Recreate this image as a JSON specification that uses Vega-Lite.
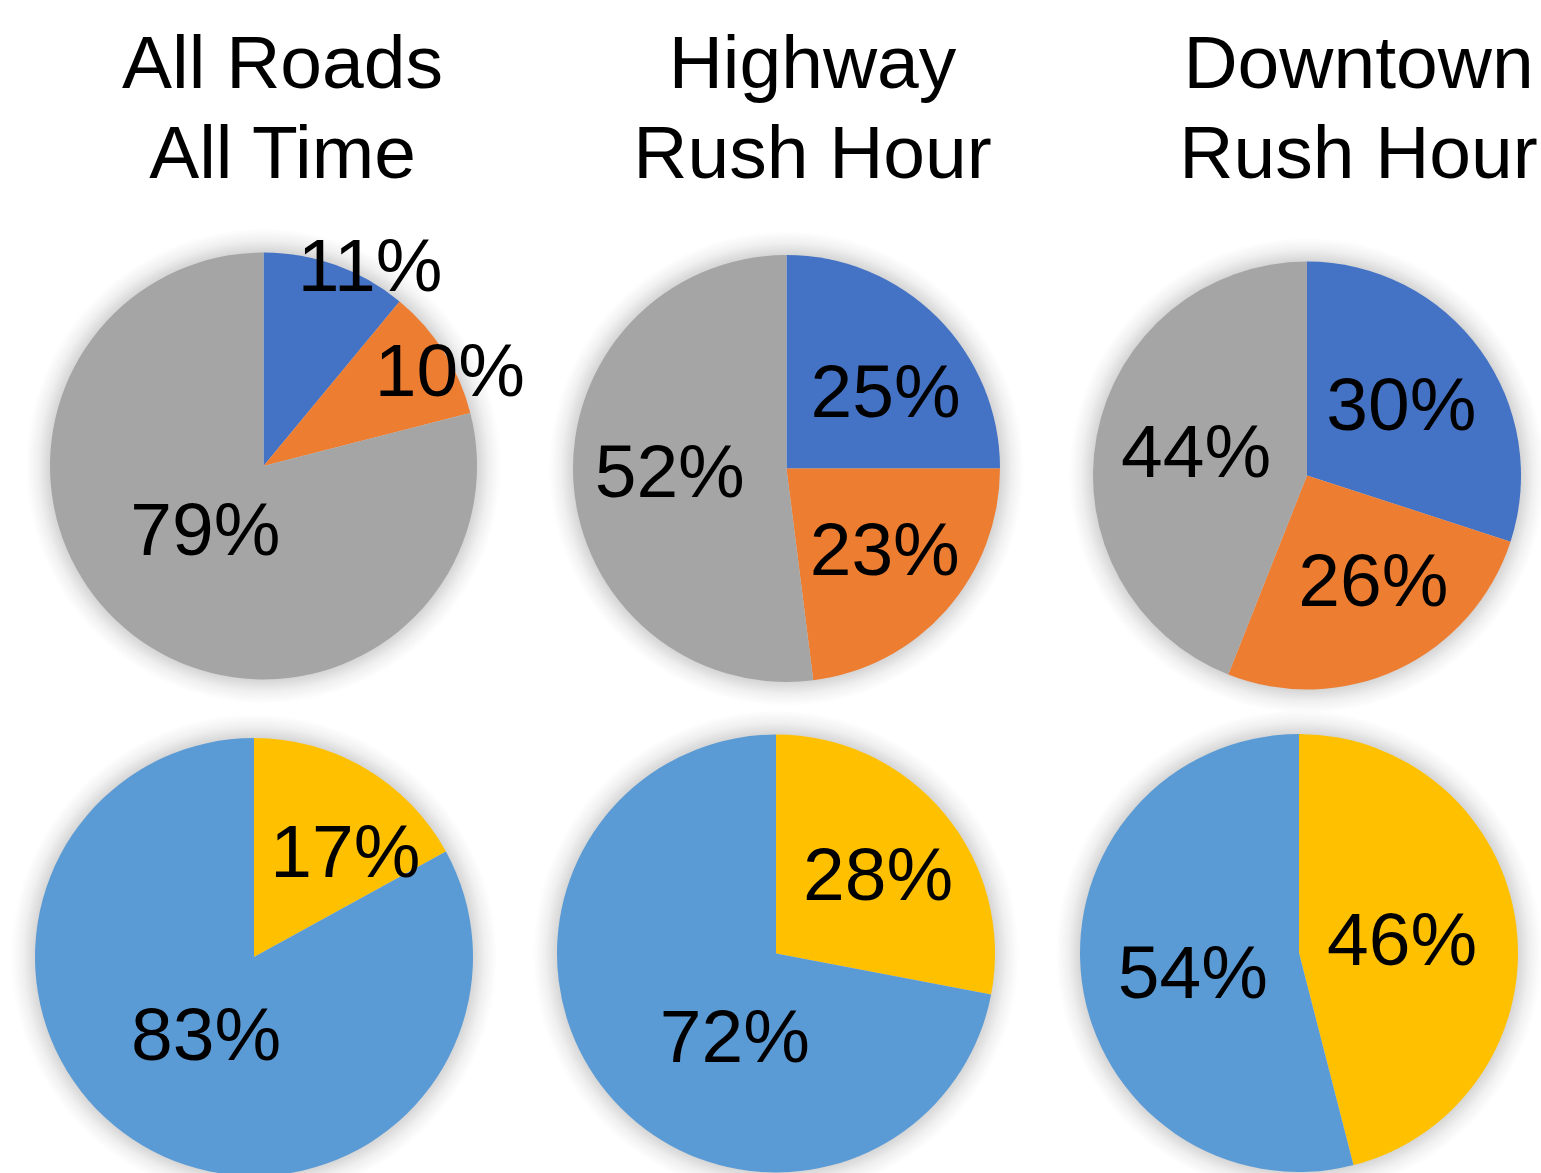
{
  "$schema": "https://vega.github.io/schema/vega-lite/v6.json",
  "padding": {"top": 28, "left": 0, "right": 0, "bottom": 0},
  "background": "white",
  "config": {
    "view": {"stroke": null},
    "title": {"fontSize": 75, "font": "Liberation Sans", "fontWeight": "normal", "color": "#000000", "lineHeight": 90, "anchor": "middle", "frame": "group", "offset": 7, "baseline": "bottom"},
    "text": {"fontSize": 75, "font": "Liberation Sans", "baseline": "middle", "align": "center", "color": "#000000"}
  },
  "columns": 3,
  "spacing": 0,
  "bounds": "flush",
  "align": "none",
  "concat": [
    {
      "width": 527, "height": 530,
      "title": {"text": ["All Roads", "All Time"], "dx": 19},
      "data": {"values": [
        {"cat": "Series 1", "share": 0.11},
        {"cat": "Series 2", "share": 0.10},
        {"cat": "Series 3", "share": 0.79}
      ]},
      "resolve": {"scale": {"theta": "independent"}},
      "layer": [
        {"transform": [{"aggregate": [{"op": "sum", "field": "share", "as": "total"}]}],
         "mark": {"type": "arc", "outerRadius": 237.5, "color": {"gradient": "radial", "x1": 0.5, "y1": 0.5, "x2": 0.5, "y2": 0.5, "r1": 0, "r2": 0.5, "stops": [{"offset": 0, "color": "rgba(0,0,0,0.16)"}, {"offset": 0.9, "color": "rgba(0,0,0,0.16)"}, {"offset": 0.95, "color": "rgba(0,0,0,0.06)"}, {"offset": 1, "color": "rgba(0,0,0,0)"}]}},
         "encoding": {"theta": {"field": "total", "type": "quantitative"}}},
        {"mark": {"type": "arc", "outerRadius": 213.5},
         "encoding": {"theta": {"field": "share", "type": "quantitative", "stack": true}, "order": {"field": "cat", "type": "ordinal", "sort": "ascending"},
           "color": {"field": "cat", "type": "nominal", "legend": null, "scale": {"domain": ["Series 1", "Series 2", "Series 3", "Group 1", "Group 2"], "range": ["#4472C4", "#ED7D31", "#A5A5A5", "#FFC000", "#5B9BD5"]}}}},
        {"mark": {"type": "text", "radius": 229, "dx": 29, "dy": 17},
         "encoding": {"theta": {"field": "share", "type": "quantitative", "stack": true}, "order": {"field": "cat", "type": "ordinal", "sort": "ascending"},
           "text": {"condition": {"test": "datum.cat === 'Series 1'", "field": "share", "type": "quantitative", "format": ".0%"}, "value": ""}}},
        {"mark": {"type": "text", "radius": 210, "dx": 9, "dy": 20},
         "encoding": {"theta": {"field": "share", "type": "quantitative", "stack": true}, "order": {"field": "cat", "type": "ordinal", "sort": "ascending"},
           "text": {"condition": {"test": "datum.cat === 'Series 2'", "field": "share", "type": "quantitative", "format": ".0%"}, "value": ""}}},
        {"mark": {"type": "text", "radius": 85, "dx": -6, "dy": -1},
         "encoding": {"theta": {"field": "share", "type": "quantitative", "stack": true}, "order": {"field": "cat", "type": "ordinal", "sort": "ascending"},
           "text": {"condition": {"test": "datum.cat === 'Series 3'", "field": "share", "type": "quantitative", "format": ".0%"}, "value": ""}}}
      ]
    },
    {
      "width": 519, "height": 535,
      "title": {"text": ["Highway", "Rush Hour"], "dx": 26},
      "data": {"values": [
        {"cat": "Series 1", "share": 0.25},
        {"cat": "Series 2", "share": 0.23},
        {"cat": "Series 3", "share": 0.52}
      ]},
      "resolve": {"scale": {"theta": "independent"}},
      "layer": [
        {"transform": [{"aggregate": [{"op": "sum", "field": "share", "as": "total"}]}],
         "mark": {"type": "arc", "outerRadius": 237.5, "color": {"gradient": "radial", "x1": 0.5, "y1": 0.5, "x2": 0.5, "y2": 0.5, "r1": 0, "r2": 0.5, "stops": [{"offset": 0, "color": "rgba(0,0,0,0.16)"}, {"offset": 0.9, "color": "rgba(0,0,0,0.16)"}, {"offset": 0.95, "color": "rgba(0,0,0,0.06)"}, {"offset": 1, "color": "rgba(0,0,0,0)"}]}},
         "encoding": {"theta": {"field": "total", "type": "quantitative"}}},
        {"mark": {"type": "arc", "outerRadius": 213.5},
         "encoding": {"theta": {"field": "share", "type": "quantitative", "stack": true}, "order": {"field": "cat", "type": "ordinal", "sort": "ascending"},
           "color": {"field": "cat", "type": "nominal", "legend": null, "scale": {"domain": ["Series 1", "Series 2", "Series 3", "Group 1", "Group 2"], "range": ["#4472C4", "#ED7D31", "#A5A5A5", "#FFC000", "#5B9BD5"]}}}},
        {"mark": {"type": "text", "radius": 126, "dx": 10, "dy": 15},
         "encoding": {"theta": {"field": "share", "type": "quantitative", "stack": true}, "order": {"field": "cat", "type": "ordinal", "sort": "ascending"},
           "text": {"condition": {"test": "datum.cat === 'Series 1'", "field": "share", "type": "quantitative", "format": ".0%"}, "value": ""}}},
        {"mark": {"type": "text", "radius": 127, "dx": 3, "dy": 0},
         "encoding": {"theta": {"field": "share", "type": "quantitative", "stack": true}, "order": {"field": "cat", "type": "ordinal", "sort": "ascending"},
           "text": {"condition": {"test": "datum.cat === 'Series 2'", "field": "share", "type": "quantitative", "format": ".0%"}, "value": ""}}},
        {"mark": {"type": "text", "radius": 117, "dx": 0, "dy": -2},
         "encoding": {"theta": {"field": "share", "type": "quantitative", "stack": true}, "order": {"field": "cat", "type": "ordinal", "sort": "ascending"},
           "text": {"condition": {"test": "datum.cat === 'Series 3'", "field": "share", "type": "quantitative", "format": ".0%"}, "value": ""}}}
      ]
    },
    {
      "width": 522, "height": 549,
      "title": {"text": ["Downtown", "Rush Hour"], "dx": 51.5},
      "data": {"values": [
        {"cat": "Series 1", "share": 0.30},
        {"cat": "Series 2", "share": 0.26},
        {"cat": "Series 3", "share": 0.44}
      ]},
      "resolve": {"scale": {"theta": "independent"}},
      "layer": [
        {"transform": [{"aggregate": [{"op": "sum", "field": "share", "as": "total"}]}],
         "mark": {"type": "arc", "outerRadius": 238, "color": {"gradient": "radial", "x1": 0.5, "y1": 0.5, "x2": 0.5, "y2": 0.5, "r1": 0, "r2": 0.5, "stops": [{"offset": 0, "color": "rgba(0,0,0,0.16)"}, {"offset": 0.9, "color": "rgba(0,0,0,0.16)"}, {"offset": 0.95, "color": "rgba(0,0,0,0.06)"}, {"offset": 1, "color": "rgba(0,0,0,0)"}]}},
         "encoding": {"theta": {"field": "total", "type": "quantitative"}}},
        {"mark": {"type": "arc", "outerRadius": 214},
         "encoding": {"theta": {"field": "share", "type": "quantitative", "stack": true}, "order": {"field": "cat", "type": "ordinal", "sort": "ascending"},
           "color": {"field": "cat", "type": "nominal", "legend": null, "scale": {"domain": ["Series 1", "Series 2", "Series 3", "Group 1", "Group 2"], "range": ["#4472C4", "#ED7D31", "#A5A5A5", "#FFC000", "#5B9BD5"]}}}},
        {"mark": {"type": "text", "radius": 119, "dx": -2, "dy": 1},
         "encoding": {"theta": {"field": "share", "type": "quantitative", "stack": true}, "order": {"field": "cat", "type": "ordinal", "sort": "ascending"},
           "text": {"condition": {"test": "datum.cat === 'Series 1'", "field": "share", "type": "quantitative", "format": ".0%"}, "value": ""}}},
        {"mark": {"type": "text", "radius": 123, "dx": 14, "dy": -4},
         "encoding": {"theta": {"field": "share", "type": "quantitative", "stack": true}, "order": {"field": "cat", "type": "ordinal", "sort": "ascending"},
           "text": {"condition": {"test": "datum.cat === 'Series 2'", "field": "share", "type": "quantitative", "format": ".0%"}, "value": ""}}},
        {"mark": {"type": "text", "radius": 114, "dx": 1, "dy": 0},
         "encoding": {"theta": {"field": "share", "type": "quantitative", "stack": true}, "order": {"field": "cat", "type": "ordinal", "sort": "ascending"},
           "text": {"condition": {"test": "datum.cat === 'Series 3'", "field": "share", "type": "quantitative", "format": ".0%"}, "value": ""}}}
      ]
    },
    {
      "width": 508, "height": 414,
      "data": {"values": [
        {"cat": "Group 1", "share": 0.17},
        {"cat": "Group 2", "share": 0.83}
      ]},
      "resolve": {"scale": {"theta": "independent"}},
      "layer": [
        {"transform": [{"aggregate": [{"op": "sum", "field": "share", "as": "total"}]}],
         "mark": {"type": "arc", "outerRadius": 243, "color": {"gradient": "radial", "x1": 0.5, "y1": 0.5, "x2": 0.5, "y2": 0.5, "r1": 0, "r2": 0.5, "stops": [{"offset": 0, "color": "rgba(0,0,0,0.16)"}, {"offset": 0.9, "color": "rgba(0,0,0,0.16)"}, {"offset": 0.95, "color": "rgba(0,0,0,0.06)"}, {"offset": 1, "color": "rgba(0,0,0,0)"}]}},
         "encoding": {"theta": {"field": "total", "type": "quantitative"}}},
        {"mark": {"type": "arc", "outerRadius": 219},
         "encoding": {"theta": {"field": "share", "type": "quantitative", "stack": true}, "order": {"field": "cat", "type": "ordinal", "sort": "ascending"},
           "color": {"field": "cat", "type": "nominal", "legend": null, "scale": {"domain": ["Series 1", "Series 2", "Series 3", "Group 1", "Group 2"], "range": ["#4472C4", "#ED7D31", "#A5A5A5", "#FFC000", "#5B9BD5"]}}}},
        {"mark": {"type": "text", "radius": 140, "dx": 20, "dy": 18},
         "encoding": {"theta": {"field": "share", "type": "quantitative", "stack": true}, "order": {"field": "cat", "type": "ordinal", "sort": "ascending"},
           "text": {"condition": {"test": "datum.cat === 'Group 1'", "field": "share", "type": "quantitative", "format": ".0%"}, "value": ""}}},
        {"mark": {"type": "text", "radius": 90, "dx": -2, "dy": 3},
         "encoding": {"theta": {"field": "share", "type": "quantitative", "stack": true}, "order": {"field": "cat", "type": "ordinal", "sort": "ascending"},
           "text": {"condition": {"test": "datum.cat === 'Group 2'", "field": "share", "type": "quantitative", "format": ".0%"}, "value": ""}}}
      ]
    },
    {
      "width": 498, "height": 407,
      "data": {"values": [
        {"cat": "Group 1", "share": 0.28},
        {"cat": "Group 2", "share": 0.72}
      ]},
      "resolve": {"scale": {"theta": "independent"}},
      "layer": [
        {"transform": [{"aggregate": [{"op": "sum", "field": "share", "as": "total"}]}],
         "mark": {"type": "arc", "outerRadius": 243, "color": {"gradient": "radial", "x1": 0.5, "y1": 0.5, "x2": 0.5, "y2": 0.5, "r1": 0, "r2": 0.5, "stops": [{"offset": 0, "color": "rgba(0,0,0,0.16)"}, {"offset": 0.9, "color": "rgba(0,0,0,0.16)"}, {"offset": 0.95, "color": "rgba(0,0,0,0.06)"}, {"offset": 1, "color": "rgba(0,0,0,0)"}]}},
         "encoding": {"theta": {"field": "total", "type": "quantitative"}}},
        {"mark": {"type": "arc", "outerRadius": 219},
         "encoding": {"theta": {"field": "share", "type": "quantitative", "stack": true}, "order": {"field": "cat", "type": "ordinal", "sort": "ascending"},
           "color": {"field": "cat", "type": "nominal", "legend": null, "scale": {"domain": ["Series 1", "Series 2", "Series 3", "Group 1", "Group 2"], "range": ["#4472C4", "#ED7D31", "#A5A5A5", "#FFC000", "#5B9BD5"]}}}},
        {"mark": {"type": "text", "radius": 130, "dx": 2, "dy": 6},
         "encoding": {"theta": {"field": "share", "type": "quantitative", "stack": true}, "order": {"field": "cat", "type": "ordinal", "sort": "ascending"},
           "text": {"condition": {"test": "datum.cat === 'Group 1'", "field": "share", "type": "quantitative", "format": ".0%"}, "value": ""}}},
        {"mark": {"type": "text", "radius": 91, "dx": 29, "dy": 27},
         "encoding": {"theta": {"field": "share", "type": "quantitative", "stack": true}, "order": {"field": "cat", "type": "ordinal", "sort": "ascending"},
           "text": {"condition": {"test": "datum.cat === 'Group 2'", "field": "share", "type": "quantitative", "format": ".0%"}, "value": ""}}}
      ]
    },
    {
      "width": 506, "height": 406,
      "data": {"values": [
        {"cat": "Group 1", "share": 0.46},
        {"cat": "Group 2", "share": 0.54}
      ]},
      "resolve": {"scale": {"theta": "independent"}},
      "layer": [
        {"transform": [{"aggregate": [{"op": "sum", "field": "share", "as": "total"}]}],
         "mark": {"type": "arc", "outerRadius": 243, "color": {"gradient": "radial", "x1": 0.5, "y1": 0.5, "x2": 0.5, "y2": 0.5, "r1": 0, "r2": 0.5, "stops": [{"offset": 0, "color": "rgba(0,0,0,0.16)"}, {"offset": 0.9, "color": "rgba(0,0,0,0.16)"}, {"offset": 0.95, "color": "rgba(0,0,0,0.06)"}, {"offset": 1, "color": "rgba(0,0,0,0)"}]}},
         "encoding": {"theta": {"field": "total", "type": "quantitative"}}},
        {"mark": {"type": "arc", "outerRadius": 219},
         "encoding": {"theta": {"field": "share", "type": "quantitative", "stack": true}, "order": {"field": "cat", "type": "ordinal", "sort": "ascending"},
           "color": {"field": "cat", "type": "nominal", "legend": null, "scale": {"domain": ["Series 1", "Series 2", "Series 3", "Group 1", "Group 2"], "range": ["#4472C4", "#ED7D31", "#A5A5A5", "#FFC000", "#5B9BD5"]}}}},
        {"mark": {"type": "text", "radius": 104, "dx": 0, "dy": 2},
         "encoding": {"theta": {"field": "share", "type": "quantitative", "stack": true}, "order": {"field": "cat", "type": "ordinal", "sort": "ascending"},
           "text": {"condition": {"test": "datum.cat === 'Group 1'", "field": "share", "type": "quantitative", "format": ".0%"}, "value": ""}}},
        {"mark": {"type": "text", "radius": 108, "dx": 1, "dy": 8},
         "encoding": {"theta": {"field": "share", "type": "quantitative", "stack": true}, "order": {"field": "cat", "type": "ordinal", "sort": "ascending"},
           "text": {"condition": {"test": "datum.cat === 'Group 2'", "field": "share", "type": "quantitative", "format": ".0%"}, "value": ""}}}
      ]
    }
  ]
}
